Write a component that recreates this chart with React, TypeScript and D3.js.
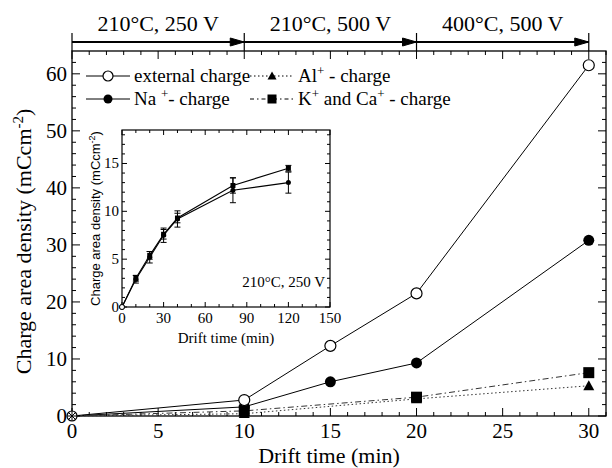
import React, { useEffect, useRef } from "react";
import * as d3 from "d3";

// main chart data
const driftTimes = [0, 10, 15, 20, 30];
const externalCharge = [0, 2.8, 12.3, 21.5, 61.5];
const naCharge = [0, 1.6, 6.0, 9.3, 30.8];
const ionTimes = [0, 10, 20, 30];
const alCharge = [0, 0.4, 3.0, 5.3];
const kCaCharge = [0, 0.9, 3.3, 7.6];

const stageBounds = [0, 10, 20, 30];
const stageLabels = ["210°C, 250 V", "210°C, 500 V", "400°C, 500 V"];

const xTicks = [0, 5, 10, 15, 20, 25, 30];
const yTicks = [0, 10, 20, 30, 40, 50, 60];

// inset data (210°C, 250 V)
const insetTimes = [0, 10, 20, 30, 40, 80, 120];
const insetCircle = [0, 2.9, 5.2, 7.5, 9.2, 12.2, 13.0];
const insetCircleErr = [0, 0.4, 0.6, 0.75, 0.85, 1.3, 1.1];
const insetSquare = [0, 3.0, 5.4, 7.6, 9.3, 12.7, 14.5];
const insetSquareErr = [0, 0.3, 0.4, 0.5, 0.5, 0.8, 0.3];
const insetXTicks = [0, 30, 60, 90, 120, 150];
const insetYTicks = [0, 5, 10, 15];

const serif = "'Liberation Serif', 'Times New Roman', serif";
const sans = "'Liberation Sans', Arial, sans-serif";

type Sel = d3.Selection<SVGGElement, unknown, null, undefined>;

function marker(g: Sel, kind: string, cx: number, cy: number, r: number) {
  if (kind === "open") {
    g.append("circle").attr("cx", cx).attr("cy", cy).attr("r", r)
      .attr("fill", "#fff").attr("stroke", "#000").attr("stroke-width", 1.2);
  } else if (kind === "circle") {
    g.append("circle").attr("cx", cx).attr("cy", cy).attr("r", r).attr("fill", "#000");
  } else if (kind === "square") {
    g.append("rect").attr("x", cx - r).attr("y", cy - r)
      .attr("width", 2 * r).attr("height", 2 * r).attr("fill", "#000");
  } else if (kind === "triangle") {
    g.append("path")
      .attr("d", `M${cx},${cy - r}L${cx + r},${cy + r * 0.8}L${cx - r},${cy + r * 0.8}Z`)
      .attr("fill", "#000");
  }
}

// text with "^" marking a superscript part
function richText(t: d3.Selection<SVGTextElement, unknown, null, undefined>, parts: string[], up: number, small: number) {
  let shift = 0;
  parts.forEach((p) => {
    if (p.startsWith("^")) {
      t.append("tspan").attr("dy", -up - shift).attr("font-size", small).text(p.slice(1));
      shift = -up;
    } else {
      t.append("tspan").attr("dy", -shift).text(p);
      shift = 0;
    }
  });
}

function App() {
  const svgRef = useRef<SVGSVGElement | null>(null);

  useEffect(() => {
    const svg = d3.select(svgRef.current);
    svg.selectAll("*").remove();
    const root = svg.append("g") as unknown as Sel;

    const x = d3.scaleLinear().domain([0, 31]).range([72, 606]);
    const y = d3.scaleLinear().domain([0, 64]).range([416, 51]);
    const [x0, x1] = x.range();
    const [y0, y1] = y.range();

    // frame
    root.append("rect").attr("x", x0).attr("y", y1)
      .attr("width", x1 - x0).attr("height", y0 - y1)
      .attr("fill", "none").attr("stroke", "#000").attr("stroke-width", 1.3);

    // ticks, inward on all four sides
    const minorX = d3.range(0, 31.01, 1);
    const minorY = d3.range(0, 64, 2);
    const tk = root.append("g").attr("stroke", "#000").attr("stroke-width", 1);
    minorX.forEach((v) => {
      const len = v % 5 === 0 ? 8 : 4;
      tk.append("line").attr("x1", x(v)).attr("x2", x(v)).attr("y1", y0).attr("y2", y0 - len);
      tk.append("line").attr("x1", x(v)).attr("x2", x(v)).attr("y1", y1).attr("y2", y1 + len);
    });
    minorY.forEach((v) => {
      const len = v % 10 === 0 ? 8 : 4;
      tk.append("line").attr("x1", x0).attr("x2", x0 + len).attr("y1", y(v)).attr("y2", y(v));
      tk.append("line").attr("x1", x1).attr("x2", x1 - len).attr("y1", y(v)).attr("y2", y(v));
    });

    // tick labels
    root.append("g").selectAll("text").data(xTicks).join("text")
      .attr("x", (d) => x(d)).attr("y", y0 + 22)
      .attr("text-anchor", "middle").attr("font-family", serif).attr("font-size", 21)
      .text((d) => d);
    root.append("g").selectAll("text").data(yTicks).join("text")
      .attr("x", x0 - 5).attr("y", (d) => y(d) + 7)
      .attr("text-anchor", "end").attr("font-family", serif).attr("font-size", 21)
      .text((d) => d);

    // axis titles
    root.append("text").attr("x", (x0 + x1) / 2 - 10).attr("y", 463)
      .attr("text-anchor", "middle").attr("font-family", serif).attr("font-size", 22)
      .text("Drift time (min)");
    const yt = root.append("text")
      .attr("transform", `translate(31, ${y(30.6)}) rotate(-90)`)
      .attr("text-anchor", "middle").attr("font-family", serif).attr("font-size", 22);
    richText(yt as any, ["Charge area density (mCcm", "^-2", ")"], 8, 15);

    // stage header with arrows
    const hy = 42;
    const hd = root.append("g").attr("stroke", "#000");
    hd.append("line").attr("x1", x0).attr("x2", x(stageBounds[stageBounds.length - 1]))
      .attr("y1", hy).attr("y2", hy).attr("stroke-width", 2);
    stageBounds.forEach((b, i) => {
      const px = i === 0 ? x0 : x(b);
      hd.append("line").attr("x1", px).attr("x2", px).attr("y1", hy - 9).attr("y2", y1)
        .attr("stroke-width", 1.2);
      if (i > 0) {
        hd.append("path")
          .attr("d", `M${px},${hy}L${px - 14},${hy - 4}L${px - 14},${hy + 4}Z`)
          .attr("fill", "#000");
      }
    });
    root.append("g").selectAll("text").data(stageLabels).join("text")
      .attr("x", (d, i) => x((stageBounds[i] + stageBounds[i + 1]) / 2))
      .attr("y", 31).attr("text-anchor", "middle")
      .attr("font-family", serif).attr("font-size", 22).text((d) => d);

    // series
    const series = [
      { xs: driftTimes, ys: externalCharge, kind: "open", dash: null, r: 5.5 },
      { xs: driftTimes, ys: naCharge, kind: "circle", dash: null, r: 5.5 },
      { xs: ionTimes, ys: alCharge, kind: "triangle", dash: "1.5,2.5", r: 5.5 },
      { xs: ionTimes, ys: kCaCharge, kind: "square", dash: "6,3,1.5,3", r: 5.5 },
    ];
    series.forEach((s) => {
      const pts = s.xs.map((t, i) => [x(t), y(s.ys[i])] as [number, number]);
      root.append("path").attr("d", d3.line()(pts))
        .attr("fill", "none").attr("stroke", s.dash ? "#333" : "#000")
        .attr("stroke-width", 1).attr("stroke-dasharray", s.dash);
    });
    const mk = root.append("g") as unknown as Sel;
    [...series].reverse().forEach((s) => {
      s.xs.forEach((t, i) => {
        if (t === 0) return;
        marker(mk, s.kind, x(t), y(s.ys[i]), s.r);
      });
    });
    // origin: overlapped symbols
    const ox = x(driftTimes[0]);
    const oy = y(externalCharge[0]);
    mk.append("circle").attr("cx", ox).attr("cy", oy).attr("r", 5)
      .attr("fill", "#fff").attr("stroke", "#000").attr("stroke-width", 1.2);
    [0, 45, 90, 135].forEach((a) => {
      const dx = 5 * Math.cos((a * Math.PI) / 180);
      const dy = 5 * Math.sin((a * Math.PI) / 180);
      mk.append("line").attr("x1", ox - dx).attr("x2", ox + dx)
        .attr("y1", oy - dy).attr("y2", oy + dy).attr("stroke", "#000").attr("stroke-width", 1);
    });

    // legend
    const legend = [
      { label: ["external charge"], kind: "open", dash: null, col: 0, row: 0 },
      { label: ["Na ", "^+", "- charge"], kind: "circle", dash: null, col: 0, row: 1 },
      { label: ["Al", "^+", " - charge"], kind: "triangle", dash: "1.5,2.5", col: 1, row: 0 },
      { label: ["K", "^+", " and Ca", "^+", " - charge"], kind: "square", dash: "4,3,1.5,3", col: 1, row: 1 },
    ];
    const lg = root.append("g") as unknown as Sel;
    legend.forEach((l) => {
      const lx = l.col === 0 ? 86 : 250;
      const ly = 76 + l.row * 23;
      lg.append("line").attr("x1", lx).attr("x2", lx + 44).attr("y1", ly).attr("y2", ly)
        .attr("stroke", "#000").attr("stroke-width", 1).attr("stroke-dasharray", l.dash);
      marker(lg, l.kind, lx + 22, ly, l.kind === "open" ? 5 : 4.5);
      const t = lg.append("text").attr("x", lx + 48).attr("y", ly + 6)
        .attr("font-family", serif).attr("font-size", 19);
      richText(t as any, l.label, 7, 13);
    });

    // inset
    const ix = d3.scaleLinear().domain([0, 150]).range([122, 330]);
    const iy = d3.scaleLinear().domain([0, 18.5]).range([307, 130]);
    const [ix0, ix1] = ix.range();
    const [iy0, iy1] = iy.range();
    const ins = root.append("g") as unknown as Sel;
    ins.append("rect").attr("x", ix0).attr("y", iy1)
      .attr("width", ix1 - ix0).attr("height", iy0 - iy1)
      .attr("fill", "#fff").attr("stroke", "#000").attr("stroke-width", 1.2);
    d3.range(0, 151, 10).forEach((v) => {
      const len = v % 30 === 0 ? 5 : 3;
      ins.append("line").attr("x1", ix(v)).attr("x2", ix(v)).attr("y1", iy0).attr("y2", iy0 - len).attr("stroke", "#000");
      ins.append("line").attr("x1", ix(v)).attr("x2", ix(v)).attr("y1", iy1).attr("y2", iy1 + len).attr("stroke", "#000");
    });
    d3.range(0, 18.5, 1).forEach((v) => {
      const len = v % 5 === 0 ? 5 : 3;
      ins.append("line").attr("x1", ix0).attr("x2", ix0 + len).attr("y1", iy(v)).attr("y2", iy(v)).attr("stroke", "#000");
      ins.append("line").attr("x1", ix1).attr("x2", ix1 - len).attr("y1", iy(v)).attr("y2", iy(v)).attr("stroke", "#000");
    });
    ins.append("g").selectAll("text").data(insetXTicks).join("text")
      .attr("x", (d) => ix(d)).attr("y", iy0 + 16).attr("text-anchor", "middle")
      .attr("font-family", serif).attr("font-size", 15).text((d) => d);
    ins.append("g").selectAll("text").data(insetYTicks).join("text")
      .attr("x", ix0 - 3).attr("y", (d) => iy(d) + 5).attr("text-anchor", "end")
      .attr("font-family", serif).attr("font-size", 15).text((d) => d);
    ins.append("text").attr("x", (ix0 + ix1) / 2).attr("y", iy0 + 36)
      .attr("text-anchor", "middle").attr("font-family", serif).attr("font-size", 15)
      .text("Drift time (min)");
    const iyt = ins.append("text")
      .attr("transform", `translate(${ix0 - 22}, ${(iy0 + iy1) / 2}) rotate(-90)`)
      .attr("text-anchor", "middle").attr("font-family", sans).attr("font-size", 13);
    richText(iyt as any, ["Charge area density (mCcm", "^-2", ")"], 5, 9);
    ins.append("text").attr("x", ix1 - 5).attr("y", 287).attr("text-anchor", "end")
      .attr("font-family", serif).attr("font-size", 15).text("210°C, 250 V");

    const insetSeries = [
      { ys: insetCircle, err: insetCircleErr, kind: "circle" },
      { ys: insetSquare, err: insetSquareErr, kind: "square" },
    ];
    insetSeries.forEach((s) => {
      const pts = insetTimes.map((t, i) => [ix(t), iy(s.ys[i])] as [number, number]);
      ins.append("path").attr("d", d3.line()(pts)).attr("fill", "none")
        .attr("stroke", "#000").attr("stroke-width", 1.1);
      insetTimes.forEach((t, i) => {
        if (s.err[i] > 0) {
          const cx = ix(t);
          const a = iy(s.ys[i] + s.err[i]);
          const b = iy(s.ys[i] - s.err[i]);
          ins.append("line").attr("x1", cx).attr("x2", cx).attr("y1", a).attr("y2", b).attr("stroke", "#000");
          ins.append("line").attr("x1", cx - 3).attr("x2", cx + 3).attr("y1", a).attr("y2", a).attr("stroke", "#000");
          ins.append("line").attr("x1", cx - 3).attr("x2", cx + 3).attr("y1", b).attr("y2", b).attr("stroke", "#000");
        }
        if (t === 0) {
          ins.append("circle").attr("cx", ix(t)).attr("cy", iy(s.ys[i])).attr("r", 2.5)
            .attr("fill", "#fff").attr("stroke", "#000");
        } else {
          marker(ins, s.kind, ix(t), iy(s.ys[i]), 2.5);
        }
      });
    });
  }, []);

  return (
    <svg
      ref={svgRef}
      width={612}
      height={468}
      style={{ position: "absolute", left: 0, top: 0, background: "#fff" }}
    ></svg>
  );
}

export default App;
